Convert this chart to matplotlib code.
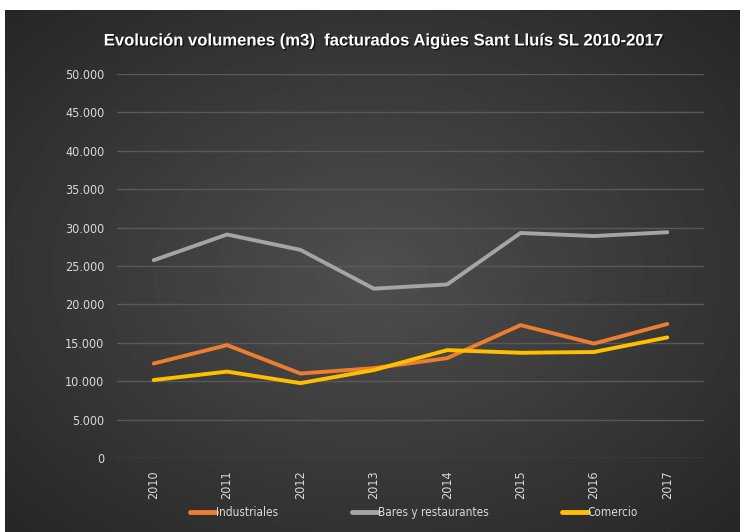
import numpy as np
import matplotlib
import matplotlib.pyplot as plt
import matplotlib.patheffects as pe
from matplotlib.ticker import FuncFormatter

matplotlib.use('Agg')

years = ['2010', '2011', '2012', '2013', '2014', '2015', '2016', '2017']
industriales = [12300, 14700, 11000, 11700, 13000, 17300, 14900, 17450]
bares = [25750, 29100, 27100, 22050, 22600, 29300, 28900, 29400]
comercio = [10150, 11250, 9750, 11450, 14050, 13700, 13800, 15700]

narrow = ['Liberation Sans Narrow', 'DejaVu Sans']
grid_col = '#595959'
tick_col = '#d9d9d9'

fig = plt.figure(figsize=(7.45, 5.32), dpi=100)
fig.patch.set_facecolor('white')

# dark radial background of the chart area
bg = fig.add_axes([5 / 745, 0, 735 / 745, 522 / 532])
yy, xx = np.mgrid[0:1:300j, 0:1:400j]
r = np.sqrt(((xx - 0.5) / 0.75) ** 2 + ((yy - 0.5) / 0.75) ** 2)
shade = np.clip(0.31 - 0.17 * r, 0.14, 0.31)
bg.imshow(shade, cmap='gray', vmin=0, vmax=1, aspect='auto', extent=[0, 1, 0, 1])
bg.set_axis_off()

ax = fig.add_axes([117 / 745, 74 / 532, 587 / 745, 384 / 532])
ax.set_facecolor('none')

x = np.arange(len(years))
ax.plot(x, industriales, color='#ED7D31', lw=2.8, label='Industriales', solid_capstyle='round')
ax.plot(x, bares, color='#A5A5A5', lw=2.8, label='Bares y restaurantes', solid_capstyle='round')
ax.plot(x, comercio, color='#FFC000', lw=2.8, label='Comercio', solid_capstyle='round')

ax.set_xlim(-0.5, len(years) - 0.5)
ax.set_ylim(0, 50000)
ax.set_yticks(np.arange(0, 50001, 5000))
ax.yaxis.set_major_formatter(FuncFormatter(lambda v, p: f'{int(v):,}'.replace(',', '.')))
ax.set_xticks(x)
ax.set_xticklabels(years, rotation=90)
ax.grid(axis='y', color=grid_col, lw=1)
ax.set_axisbelow(True)
for s in ax.spines.values():
    s.set_visible(False)
ax.tick_params(length=0, colors=tick_col, labelsize=9)
ax.tick_params(axis='y', pad=9)
ax.tick_params(axis='x', pad=9)
for lbl in ax.get_xticklabels() + ax.get_yticklabels():
    lbl.set_family(narrow)
    lbl.set_fontstretch('condensed')

fig.text(0.513, 0.923, 'Evolución volumenes (m3)  facturados Aigües Sant Lluís SL 2010-2017',
         ha='center', va='center', color='white', fontsize=12, fontweight='bold',
         family=['Liberation Sans', 'DejaVu Sans'],
         path_effects=[pe.withSimplePatchShadow(offset=(1, -1), shadow_rgbFace='black', alpha=0.6)])

leg = fig.legend(loc='center', bbox_to_anchor=(0.556, 0.037), ncol=3, frameon=False,
                 handlelength=2.2, handletextpad=0.0, columnspacing=6.2,
                 prop={'family': narrow, 'size': 8.5, 'stretch': 'condensed'})
for t in leg.get_texts():
    t.set_color(tick_col)
for h in leg.get_lines():
    h.set_linewidth(3.5)

plt.savefig('out.png', dpi=100)
